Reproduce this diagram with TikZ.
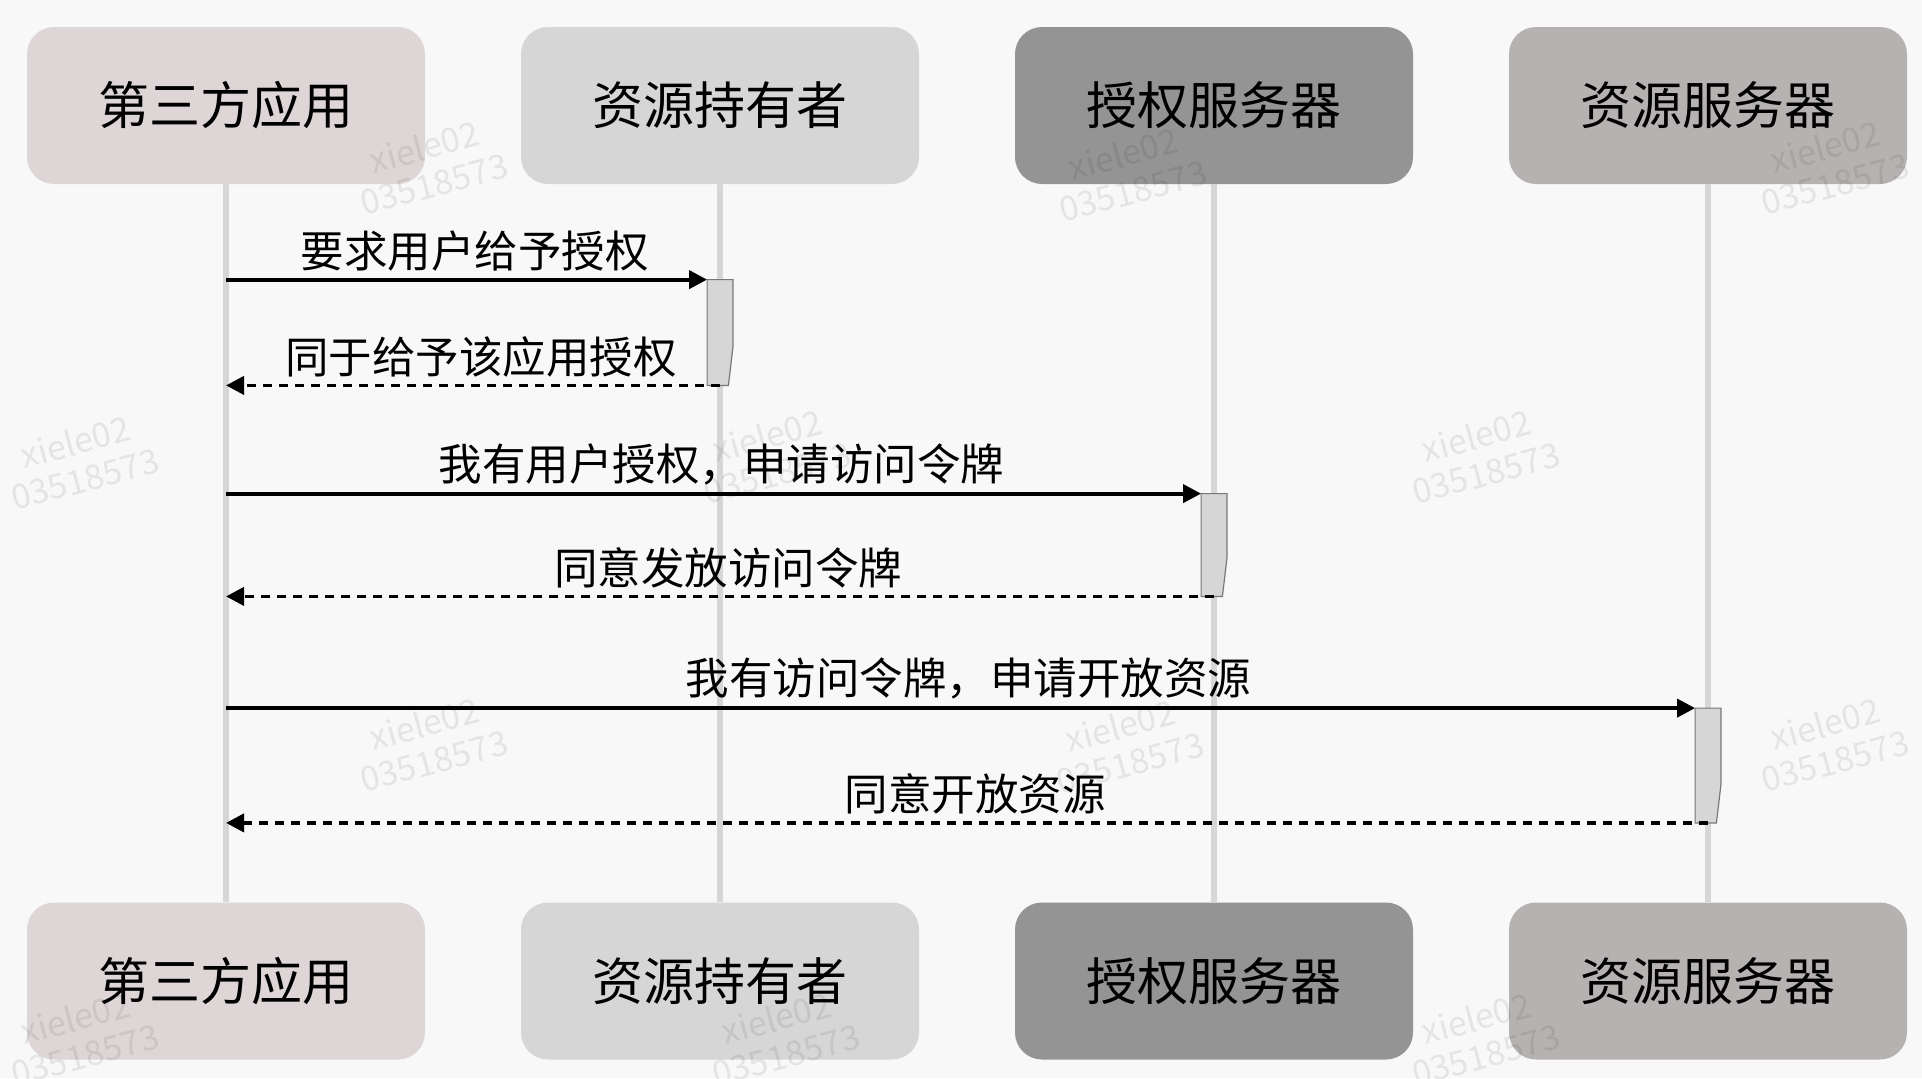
\documentclass[tikz,border=0pt]{standalone}
\usepackage{fontspec}
\setmainfont{Noto Sans CJK SC}
\usetikzlibrary{arrows.meta, calc, math, positioning}
\definecolor{bgcol}{RGB}{249,248,249}
\definecolor{boxA}{RGB}{222,214,214}
\definecolor{boxB}{RGB}{214,214,214}
\definecolor{boxC}{RGB}{148,148,148}
\definecolor{boxD}{RGB}{183,178,178}
\definecolor{lifecol}{RGB}{214,214,214}
\definecolor{actcol}{RGB}{214,214,214}
\definecolor{actline}{RGB}{120,120,120}

\begin{document}
\begin{tikzpicture}[x=0.5pt, y=-0.5pt,
  actor/.style={rounded corners=13.5pt, minimum width=199pt, minimum height=78.5pt, inner sep=0pt, font=\fontsize{25.5}{30}\selectfont},
  lifeline/.style={draw=lifecol, line width=3pt},
  act/.style={minimum width=12.5pt, inner sep=0pt},
  actbox/.style={fill=actcol, draw=actline, line width=0.6pt},
  call/.style={-{Triangle[length=9pt, width=9pt]}, line width=1.9pt},
  reply/.style={call, dash pattern=on 4.5pt off 3.5pt},
  msglabel/.style={above, xshift=4pt, font=\fontsize{21.75}{26}\selectfont},
  wmark/.style={align=center, rotate=15, text=black, text opacity=0.08, font=\fontsize{17}{19}\selectfont}
]
\tikzmath{
\xa = 226;
\dx = 494;
\ytop = 105.5;
\ybot = 981;
}
\fill[bgcol] (0,0) rectangle (1922,1078);
\useasboundingbox (0,0) rectangle (1922,1078);

% participants, top and bottom
\foreach \nm/\txt/\col [count=\i from 0] in {a/第三方应用/boxA, b/资源持有者/boxB, c/授权服务器/boxC, d/资源服务器/boxD} {
  \node[actor, fill=\col] (\nm-top) at ({\xa+\i*\dx}, \ytop) {\txt};
  \node[actor, fill=\col] (\nm-bot) at ({\xa+\i*\dx}, \ybot) {\txt};
  \draw[lifeline] (\nm-top) -- (\nm-bot);
}

% activations
\node[act, minimum height=52.5pt] (act1) at ({\xa+\dx}, 332.5) {};
\node[act, minimum height=51pt] (act2) at ({\xa+2*\dx}, 545) {};
\node[act, minimum height=57pt] (act3) at ({\xa+3*\dx}, 765.5) {};
\foreach \k in {1,2,3}
  \filldraw[actbox] (act\k.north west) -- (act\k.north east) -- ($(act\k.south east)+(0,-38)$) -- ($(act\k.south east)+(-4.5,0)$) -- (act\k.south west) -- cycle;

% messages
\draw[call] (a-top.south |- act1.north west) -- (act1.north west) node[msglabel, midway] {要求用户给予授权};
\draw[reply] (act1.south) -- (a-top.south |- act1.south) node[msglabel, midway] {同于给予该应用授权};
\draw[call] (a-top.south |- act2.north west) -- (act2.north west) node[msglabel, midway] {我有用户授权，申请访问令牌};
\draw[reply] (act2.south) -- (a-top.south |- act2.south) node[msglabel, midway] {同意发放访问令牌};
\draw[call] (a-top.south |- act3.north west) -- (act3.north west) node[msglabel, midway] {我有访问令牌，申请开放资源};
\draw[reply] (act3.south) -- (a-top.south |- act3.south) node[msglabel, midway] {同意开放资源};

% watermarks
\foreach \wx/\wy [count=\w] in {429/165, 1128/172, 1830/165, 80/460, 772/454, 1481/454, 429/742, 1125/744, 1830/742, 80/1036, 781/1036, 1481/1036}
  \node[wmark] (wm\w) at (\wx,\wy) {xiele02\\03518573};
\end{tikzpicture}
\end{document}
